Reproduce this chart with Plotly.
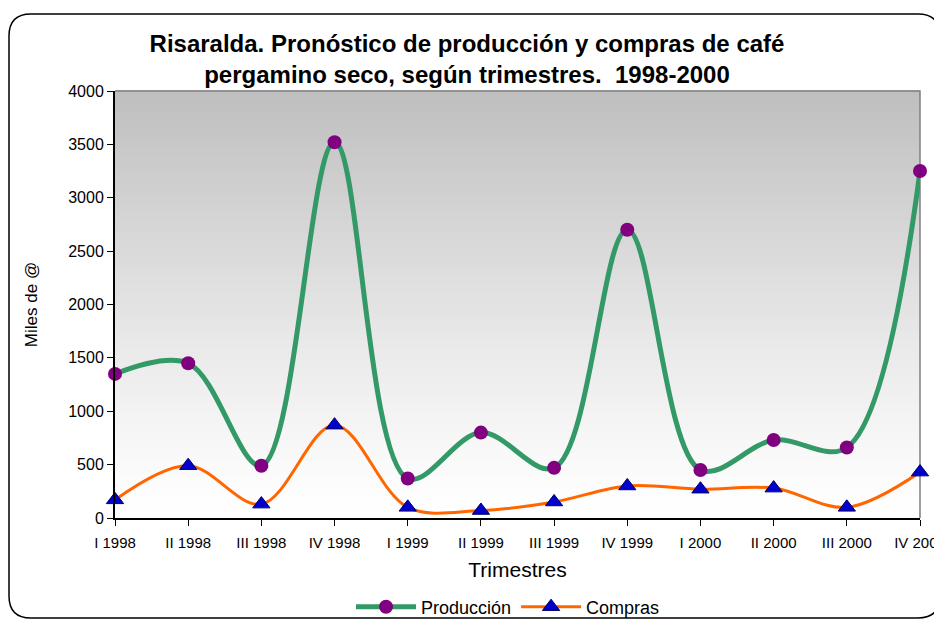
import plotly.graph_objects as go

categorias = ["I 1998", "II 1998", "III 1998", "IV 1998", "I 1999", "II 1999",
              "III 1999", "IV 1999", "I 2000", "II 2000", "III 2000", "IV 2000"]
produccion = [1350, 1450, 490, 3520, 370, 800, 470, 2700, 450, 730, 660, 3250]
compras = [170, 490, 130, 870, 100, 70, 150, 300, 270, 280, 100, 430]
y_ticks = [0, 500, 1000, 1500, 2000, 2500, 3000, 3500, 4000]

FONT = "Liberation Sans, Arial, sans-serif"

fig = go.Figure()
fig.add_trace(go.Scatter(
    x=categorias, y=produccion, name="Producción", mode="lines+markers",
    line=dict(color="#339966", width=5, shape="spline", smoothing=1.0),
    marker=dict(symbol="circle", size=14, color="#800080", line=dict(width=0)),
    cliponaxis=False))
fig.add_trace(go.Scatter(
    x=categorias, y=compras, name="Compras", mode="lines+markers",
    line=dict(color="#FF6600", width=3, shape="spline", smoothing=1.0),
    marker=dict(symbol="triangle-up", size=15, color="#0000CC",
                line=dict(width=1, color="#000066")),
    cliponaxis=False))

# gradient background for plot area
n = 60
shapes = []
for i in range(n):
    t0 = i / n
    t1 = (i + 1) / n
    tm = (t0 + t1) / 2  # 0 bottom, 1 top
    v = round(255 - (255 - 190) * tm ** 1.2)
    shapes.append(dict(type="rect", xref="x domain", yref="y domain",
                       x0=0, x1=1, y0=t0, y1=t1 + 0.002, layer="below",
                       line=dict(width=0), fillcolor=f"rgb({v},{v},{v})"))
# gray frame on top and right of plot area
shapes.append(dict(type="path", xref="x domain", yref="y domain",
                   path="M 0,1 L 1,1 L 1,0", layer="below",
                   line=dict(color="#808080", width=1.5)))

# figure coords (page body adds an 8px offset)
W, H = 942, 620
ml, mr, mt, mb = 107, 30, 83, 110
pw, ph = W - ml - mr, H - mt - mb
def px(x):
    return (x - ml) / pw
def py(y):
    return (H - mb - y) / ph
L, R, T, B, r = 1, 932, 6, 610, 22
path = (f"M {px(L + r)},{py(T)} L {px(R - r)},{py(T)} "
        f"Q {px(R)},{py(T)} {px(R)},{py(T + r)} "
        f"L {px(R)},{py(B - r)} Q {px(R)},{py(B)} {px(R - r)},{py(B)} "
        f"L {px(L + r)},{py(B)} Q {px(L)},{py(B)} {px(L)},{py(B - r)} "
        f"L {px(L)},{py(T + r)} Q {px(L)},{py(T)} {px(L + r)},{py(T)} Z")
shapes.append(dict(type="path", xref="paper", yref="paper", path=path,
                   line=dict(color="#000000", width=1.5), layer="below"))

fig.update_layout(
    width=W, height=H,
    margin=dict(l=ml, r=mr, t=mt, b=mb, autoexpand=False),
    paper_bgcolor="white", plot_bgcolor="white",
    font=dict(family=FONT, color="black"),
    title=dict(text="<b>Risaralda. Pronóstico de producción y compras de café<br>pergamino seco, según trimestres.  1998-2000</b>",
               x=459 / W, xanchor="center", y=1 - 44 / H, yanchor="middle",
               font=dict(size=24, family=FONT)),
    shapes=shapes,
    showlegend=True,
    legend=dict(orientation="h", x=px(500), xanchor="center", y=py(599), yanchor="middle",
                font=dict(size=18, family=FONT), bgcolor="rgba(0,0,0,0)",
                itemwidth=60, tracegroupgap=0),
    xaxis=dict(type="category", range=[0, len(categorias) - 1], automargin=False,
               showgrid=False, zeroline=False, showline=True, linecolor="black",
               linewidth=2, ticks="outside", ticklen=6, tickcolor="black",
               tickfont=dict(size=15), ticklabelstandoff=4,
               title=dict(text="Trimestres", font=dict(size=21), standoff=12)),
    yaxis=dict(range=[0, 4000], tickvals=y_ticks, showgrid=False, zeroline=False,
               automargin=False,
               showline=True, linecolor="black", linewidth=2, ticks="outside",
               ticklen=6, tickcolor="black", tickfont=dict(size=16),
               title=dict(text="Miles de @", font=dict(size=17), standoff=26)),
)

fig.write_html("out.html")
